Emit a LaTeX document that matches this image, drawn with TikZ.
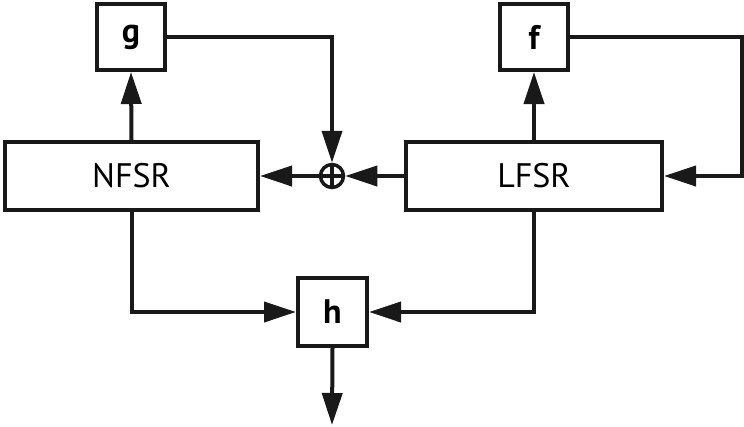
\documentclass[tikz,border=0pt]{standalone}
\usepackage{fontspec}
\setmainfont{PT Sans}
\usetikzlibrary{arrows.meta}
\tikzset{
  blk/.style={draw=black!90, line width=4pt, inner sep=0pt, font=\fontsize{34}{38}\selectfont},
  fbox/.style={blk, minimum width=68pt, minimum height=66pt, font=\fontsize{34}{38}\selectfont\bfseries},
  reg/.style={blk, minimum height=68pt},
  conn/.style={draw=black!90, line width=4pt, -{Triangle[length=32pt,width=20pt]}},
  plain/.style={draw=black!90, line width=4pt}
}
\begin{document}
\begin{tikzpicture}[x=1pt,y=-1pt]
\useasboundingbox (0,0) rectangle (744,426);
\node[fbox] (g) at (131,37) {g};
\node[fbox] (f) at (534,37) {f};
\node[reg, minimum width=253pt] (nfsr) at (131.5,176) {NFSR};
\node[reg, minimum width=256pt] (lfsr) at (534,176) {LFSR};
\node[fbox, minimum width=69pt, minimum height=68pt] (h) at (332.5,312) {h};
\node[draw=black!90, line width=3.5pt, circle, minimum size=23pt, inner sep=0pt] (x) at (332,176) {};
\draw[plain] (x.north) -- (x.south) (x.west) -- (x.east);
\coordinate (out) at (332,425);
\draw[conn] (nfsr.north) -- (g.south);
\draw[conn] (lfsr.north) -- (f.south);
\draw[conn] (g.east) -| (x.north);
\draw[conn] (f.east) -- (742,37) |- (lfsr.east);
\draw[conn] (lfsr.west) -- (x.east);
\draw[conn] (x.west) -- (nfsr.east);
\draw[conn] (nfsr.south) |- (h.west);
\draw[conn] (lfsr.south) |- (h.east);
\draw[conn] (h.south) -- (out);
\end{tikzpicture}
\end{document}
